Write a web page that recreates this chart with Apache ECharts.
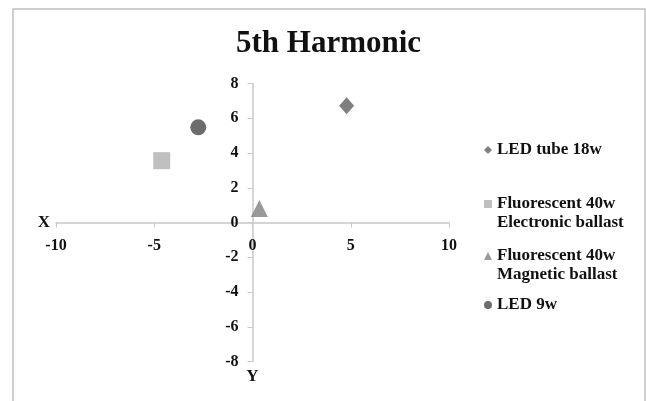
<!DOCTYPE html>
<html>
<head>
<meta charset="utf-8">
<script src="https://cdn.jsdelivr.net/npm/echarts@6/dist/echarts.min.js"></script>
<style>html,body{margin:0;padding:0;background:#fff;}#c{width:646px;height:401px;}</style>
</head>
<body>
<div id="c"></div>
<script>
var seriesNames = ['LED tube 18w', 'Fluorescent 40w\nElectronic ballast', 'Fluorescent 40w\nMagnetic ballast', 'LED 9w'];
var ledTube18w = [[4.79, 6.72]];
var fluorElectronic = [[-4.62, 3.56]];
var fluorMagnetic = [[0.35, 0.8]];
var led9w = [[-2.76, 5.48]];
var xTicks = [-10, -5, 0, 5, 10];
var yTicks = [-8, -6, -4, -2, 0, 2, 4, 6, 8];

var font = 'Liberation Serif';
var gridL = 56, gridR = 197, gridT = 83.5, gridB = 39.5, W = 646, H = 401;
var xOff = -((W - gridR - gridL) * (0 - xTicks[0]) / (xTicks[xTicks.length - 1] - xTicks[0]));
var yOff = -((H - gridB - gridT) * (0 - yTicks[0]) / (yTicks[yTicks.length - 1] - yTicks[0]));
var chart = echarts.init(document.getElementById('c'));
function legendFor(i, top, multi) {
  return {
    data: [seriesNames[i]], left: 484, top: top, padding: 0, orient: 'vertical',
    itemWidth: 8, itemHeight: 8, itemGap: 0, selectedMode: false,
    formatter: function (n) { return multi ? ' \n' + n : n; },
    textStyle: {fontFamily: font, fontWeight: 'bold', fontSize: 17, color: '#111', lineHeight: 19}
  };
}
chart.setOption({
  animation: false,
  title: {text: '5th Harmonic', left: 236, top: 28, padding: 0,
    textStyle: {fontFamily: font, fontWeight: 'bold', fontSize: 31, color: '#111'}},
  graphic: [{type: 'rect', shape: {x: 13, y: 9, width: 632, height: 420},
    style: {fill: 'none', stroke: '#c0c0c0', lineWidth: 1.5}, silent: true}],
  legend: [legendFor(0, 140.5, false), legendFor(1, 175.5, true), legendFor(2, 227.5, true), legendFor(3, 295.5, false)],
  grid: {left: gridL, right: gridR, top: gridT, bottom: gridB, containLabel: false},
  xAxis: {type: 'value', min: xTicks[0], max: xTicks[xTicks.length - 1], interval: 5,
    position: 'bottom', offset: yOff,
    name: 'X', nameLocation: 'start', nameGap: 6,
    nameTextStyle: {fontFamily: font, fontWeight: 'bold', fontSize: 17, color: '#111'},
    axisLine: {onZero: false, lineStyle: {color: '#c8c8c8', width: 1.5}},
    axisTick: {show: true, length: 5, lineStyle: {color: '#c8c8c8'}},
    axisLabel: {margin: 15, fontFamily: font, fontWeight: 'bold', fontSize: 16, color: '#111'},
    splitLine: {show: false}},
  yAxis: {type: 'value', min: yTicks[0], max: yTicks[yTicks.length - 1], interval: 2,
    position: 'left', offset: xOff,
    name: 'Y', nameLocation: 'start', nameGap: 7,
    nameTextStyle: {fontFamily: font, fontWeight: 'bold', fontSize: 17, color: '#111'},
    axisLine: {onZero: false, lineStyle: {color: '#c8c8c8', width: 1.5}},
    axisTick: {show: true, length: 5, lineStyle: {color: '#c8c8c8'}},
    axisLabel: {margin: 14, fontFamily: font, fontWeight: 'bold', fontSize: 16, color: '#111'},
    splitLine: {show: false}},
  series: [
    {name: seriesNames[0], type: 'scatter', symbol: 'diamond', symbolSize: [15, 17], data: ledTube18w, itemStyle: {color: '#5f5f5f'}},
    {name: seriesNames[1], type: 'scatter', symbol: 'rect', symbolSize: 17, data: fluorElectronic, itemStyle: {color: '#b0b0b0'}},
    {name: seriesNames[2], type: 'scatter', symbol: 'triangle', symbolSize: [17, 17], data: fluorMagnetic, itemStyle: {color: '#808080'}},
    {name: seriesNames[3], type: 'scatter', symbol: 'circle', symbolSize: 16, data: led9w, itemStyle: {color: '#474747'}}
  ]
});
</script>
</body>
</html>
